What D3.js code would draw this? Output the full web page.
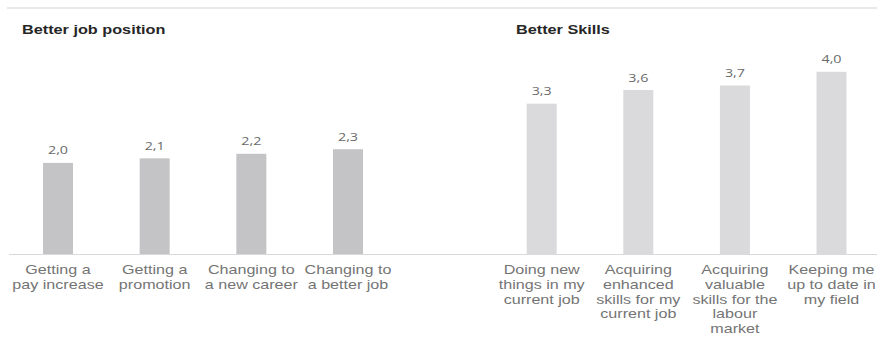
<!DOCTYPE html>
<html>
<head>
<meta charset="utf-8">
<script src="https://cdn.jsdelivr.net/npm/d3@7"></script>
<style>
  html, body { margin: 0; padding: 0; background: #ffffff; }
  svg { display: block; }
</style>
</head>
<body>
<svg id="chart" width="881" height="340"></svg>
<script>
// Panel titles
const titles = ["Better job position", "Better Skills"];

// Left panel: better job position
const jobCategories = [
  ["Getting a", "pay increase"],
  ["Getting a", "promotion"],
  ["Changing to", "a new career"],
  ["Changing to", "a better job"]
];
const jobValues = [2.0, 2.1, 2.2, 2.3];

// Right panel: better skills
const skillCategories = [
  ["Doing new", "things in my", "current job"],
  ["Acquiring", "enhanced", "skills for my", "current job"],
  ["Acquiring", "valuable", "skills for the", "labour", "market"],
  ["Keeping me", "up to date in", "my field"]
];
const skillValues = [3.3, 3.6, 3.7, 4.0];

const fmt = v => d3.format(".1f")(v).replace(".", ",");

const svg = d3.select("#chart");
const sx = 1.24;               // horizontal text widening
const baseY = 254;
const barW = 30;

const y = d3.scaleLinear().domain([0, 4.0]).range([baseY, 71.8]);

// Rules
svg.append("line")
  .attr("x1", 7).attr("x2", 877).attr("y1", 8).attr("y2", 8)
  .attr("stroke", "#e2e2e2").attr("stroke-width", 1.5);
svg.append("line")
  .attr("x1", 9).attr("x2", 877).attr("y1", baseY + 0.5).attr("y2", baseY + 0.5)
  .attr("stroke", "#d9d9d9").attr("stroke-width", 1.2);

const panels = [
  { title: titles[0], titleX: 22, cats: jobCategories, vals: jobValues, range: [58, 348], fill: "#c4c4c6" },
  { title: titles[1], titleX: 516, cats: skillCategories, vals: skillValues, range: [541.7, 831.5], fill: "#dadadc" }
];

panels.forEach(p => {
  const keys = p.cats.map(c => c.join(" "));
  const x = d3.scalePoint().domain(keys).range(p.range);
  const g = svg.append("g");

  g.append("text")
    .attr("transform", `translate(${p.titleX},34) scale(1.25,1)`)
    .attr("font-family", "Liberation Sans, Arial, sans-serif")
    .attr("font-weight", "bold")
    .attr("font-size", 13)
    .attr("fill", "#262626")
    .text(p.title);

  const data = keys.map((k, i) => ({ key: k, lines: p.cats[i], value: p.vals[i] }));

  g.selectAll("rect").data(data).join("rect")
    .attr("x", d => x(d.key) - barW / 2)
    .attr("width", barW)
    .attr("y", d => y(d.value))
    .attr("height", d => y(0) - y(d.value))
    .attr("fill", p.fill);

  g.selectAll("text.val").data(data).join("text")
    .attr("class", "val")
    .attr("transform", d => `translate(${x(d.key)},${y(d.value) - 8.5}) scale(1.3,1)`)
    .attr("text-anchor", "middle")
    .attr("font-family", "Open Sans, sans-serif")
    .attr("font-size", 11)
    .attr("fill", "#6a6a6a")
    .text(d => fmt(d.value));

  const lab = g.selectAll("g.lab").data(data).join("g")
    .attr("class", "lab")
    .attr("transform", d => `translate(${x(d.key)},0)`);
  lab.selectAll("text").data(d => d.lines).join("text")
    .attr("transform", (d, i) => `translate(0,${274 + i * 14.8}) scale(${sx},1)`)
    .attr("text-anchor", "middle")
    .attr("font-family", "Liberation Sans, Arial, sans-serif")
    .attr("font-size", 13)
    .attr("fill", "#747474")
    .text(d => d);
});
</script>
</body>
</html>
